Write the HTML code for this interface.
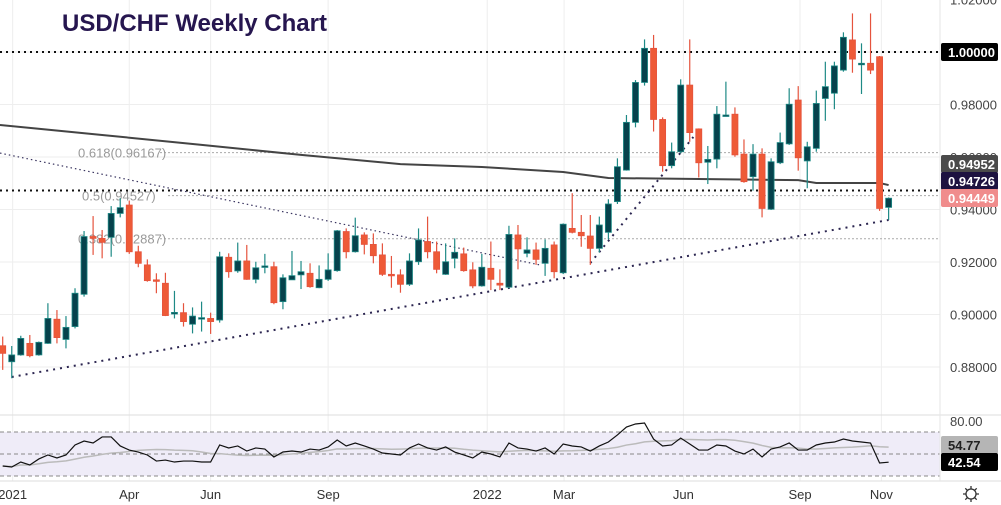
<!DOCTYPE html>
<html><head><meta charset="utf-8"><style>
html,body{margin:0;padding:0;background:#fff;}
svg{display:block;font-family:"Liberation Sans",sans-serif;}
</style></head><body>
<svg id="chart" width="1001" height="505" viewBox="0 0 1001 505" xmlns="http://www.w3.org/2000/svg">
<rect x="0" y="0" width="1001" height="505" fill="#ffffff"/>
<g id="grid"></g>
<g id="hlines"></g>
<g id="ma"></g>
<g id="trend"></g>
<g id="candles"></g>
<g id="rsi"></g>
<g id="axis"></g>
<text x="62" y="31" font-size="24" font-weight="bold" fill="#26164f">USD/CHF Weekly Chart</text>
<g transform="translate(971,494)">
<circle r="5" fill="none" stroke="#333" stroke-width="1.3"/>
<path d="M0,-8V-5M0,5V8M-8,0H-5M5,0H8M-5.7,-5.7L-3.5,-3.5M3.5,3.5L5.7,5.7M-5.7,5.7L-3.5,3.5M3.5,-3.5L5.7,-5.7" stroke="#333" stroke-width="1.3"/>
</g>
</svg>
<script>
const opens=[.8881,.8820,.8846,.8890,.8846,.8890,.8982,.8905,.8954,.9077,.9297,.9290,.9294,.9385,.9417,.9239,.9189,.9132,.9119,.9002,.9007,.8963,.8985,.8985,.8979,.9218,.9166,.9204,.9134,.9180,.9182,.9049,.9132,.9151,.9157,.9102,.9134,.9167,.9316,.9239,.9303,.9267,.9227,.9153,.9151,.9115,.9201,.9278,.9239,.9153,.9214,.9231,.9170,.9109,.9176,
.9119,.9104,.9303,.9233,.9246,.9195,.9265,.9159,.9328,.9313,.9299,.9252,.9313,
.9430,.9550,.9732,.9884,1.0014,.9743,.9567,.9620,.9874,.9707,.9580,.9592,.9757,.9763,.9611,.9525,.9611,.9401,.9578,.9650,.9817,.9585,.9633,.9823,.9843,.9931,1.0046,.9954,.9957,.9982,.9408];
const highs=[.8916,.8880,.8919,.8922,.8897,.9043,.9017,.8994,.9100,.9318,.9375,.9322,.9413,.9443,.9434,.9262,.9210,.9157,.9159,.9090,.9043,.9027,.9049,.9007,.9239,.9233,.9274,.9265,.9201,.9231,.9201,.9153,.9242,.9204,.9195,.9187,.9233,.9322,.9328,.9369,.9313,.9309,.9271,.9223,.9172,.9233,.9328,.9373,.9278,.9271,.9290,.9255,.9199,.9231,.9278,
.9172,.9338,.9341,.9294,.9274,.9286,.9278,.9347,.9462,.9379,.9379,.9373,.9439,
.9595,.9760,.9893,1.0048,1.0065,.9751,.9655,.9896,1.0048,.9709,.9642,.9794,.9887,.9789,.9667,.9649,.9633,.9595,.9693,.9862,.9870,.9658,.9853,.9963,.9963,1.0075,1.0147,1.0033,1.0147,.9985,.9446];
const lows=[.8789,.8757,.8843,.8837,.8843,.8888,.8890,.8871,.8947,.9068,.9227,.9214,.9220,.9370,.9231,.9180,.9125,.9081,.8994,.8985,.8954,.8928,.8935,.8926,.8969,.9140,.9159,.9132,.9119,.9157,.9039,.9020,.9132,.9097,.9102,.9100,.9128,.9163,.9214,.9236,.9229,.9195,.9147,.9102,.9083,.9109,.9189,.9214,.9157,.9151,.9176,.9163,.9100,.9106,.9093,
.9093,.9100,.9172,.9218,.9189,.9147,.9138,.9154,.9309,.9258,.9189,.9236,.9286,
.9421,.9548,.9713,.9872,.9697,.9544,.9557,.9614,.9658,.9522,.9497,.9557,.9757,.9601,.9502,.9472,.9370,.9398,.9573,.9646,.9548,.9481,.9620,.9738,.9782,.9925,.9921,.9840,.9916,.9395,.9360];
const closes=[.8852,.8846,.8909,.8843,.8894,.8985,.8912,.8951,.9081,.9297,.9290,.9275,.9385,.9407,.9239,.9195,.9129,.9128,.8996,.9008,.8973,.8994,.8988,.8973,.9220,.9163,.9204,.9134,.9178,.9185,.9045,.9140,.9148,.9163,.9106,.9134,.9170,.9319,.9239,.9300,.9267,.9224,.9153,.9148,.9115,.9204,.9284,.9239,.9172,.9201,.9237,.9167,.9109,.9180,.9134,
.9112,.9305,.9250,.9246,.9210,.9252,.9163,.9344,.9313,.9300,.9252,.9341,.9421,
.9563,.9732,.9884,1.0014,.9743,.9567,.9620,.9874,.9693,.9578,.9591,.9763,.9760,.9608,.9506,.9611,.9404,.9582,.9655,.9801,.9597,.9639,.9804,.9868,.9947,1.0056,.9973,.9957,.9931,.9404,.9443];
const rsiValues=[39.1,38.2,42.7,40,45.5,49.1,46.4,49.1,58.2,61.8,60,65.5,65.5,57.3,53.6,51.8,49.1,43.6,44.5,42.7,43.6,43.6,42.7,42.7,58.2,55.5,57.3,52.7,55.5,54.5,47.3,51.8,52.7,51.8,54.5,53.6,56.4,62.7,57.3,60,57.3,54.5,50.9,50,49.1,55.5,59.1,55.5,53.6,56.4,51.8,49.1,46.4,51.8,50,47.3,60,55.5,54.5,52.7,55.5,50,59.1,57.3,56.4,52.7,57.3,60.9,67.3,74.5,77.3,78.2,63.6,57.3,58.2,64.5,59.1,53.6,53.6,58.2,57.3,52.7,50,54.5,47.3,54.5,56.4,60,53.6,53.6,58.2,60,60.9,63.6,61.8,60.9,60,41.8,42.54];
const maIdx=[-0.3,11,22,33,44,53,62,67,77,88,90,97,98];
const maValues=[.9722,.9684,.9646,.9608,.9573,.9562,.9543,.9520,.9516,.9512,.9501,.9501,.9493];
const priceTicks=[1.02,0.98,0.96,0.94,0.92,0.90,0.88];
const priceTickLabels=["1.02000","0.98000","0.96000","0.94000","0.92000","0.90000","0.88000"];
const gridPrices=[1.02,1.0,0.98,0.96,0.94,0.92,0.90,0.88];
const timeLabels=["2021","Apr","Jun","Sep","2022","Mar","Jun","Sep","Nov"];
const timeIdx=[1.1,14,23,36,53.6,62.1,75.3,88.2,97.2];
const fibLevels=[0.96167,0.94527,0.92887];
const fibLabels=["0.618(0.96167)","0.5(0.94527)","0.382(0.92887)"];
const levelPrices=[1.0,0.94726];
const rsiMaPeriod=14;

const NS="http://www.w3.org/2000/svg";
const PX=940;
function xOf(i){return 2.7+9.04*i;}
function yOf(p){return 52+(1-p)*2625;}
function yR(v){return 454-(v-50)*1.1;}
function mk(tag,attrs,parent){const e=document.createElementNS(NS,tag);for(const k in attrs)e.setAttribute(k,attrs[k]);parent.appendChild(e);return e;}
const G=id=>document.getElementById(id);

// grid
const grid=G('grid');
gridPrices.forEach(p=>{const l=mk('line',{x1:0,x2:PX,y1:yOf(p),y2:yOf(p),stroke:'#eeeeee','stroke-width':1},grid);

});
timeIdx.forEach(i=>{const l=mk('line',{x1:xOf(i),x2:xOf(i),y1:0,y2:481,stroke:'#eeeeee','stroke-width':1},grid);

});

// horizontal levels & fib
const hl=G('hlines');
fibLevels.forEach((p,k)=>{
 const lx=k==1?168:160;
 const l=mk('line',{x1:lx,x2:PX,y1:yOf(p),y2:yOf(p),stroke:'#aaaaaa','stroke-width':1,'stroke-dasharray':'2,2'},hl);
 
 
 const t=mk('text',{x:k==1?82:78,y:yOf(p)+5,'font-size':13,fill:'#999999'},hl);
 t.textContent=fibLabels[k];
 
 
});
levelPrices.forEach(p=>{const l=mk('line',{x1:0,x2:PX,y1:yOf(p),y2:yOf(p),stroke:'#111','stroke-width':2,'stroke-dasharray':'2,4'},hl);

});

// MA
const ma=G('ma');
const maPl=mk('polyline',{points:maIdx.map((i,k)=>xOf(i)+','+yOf(maValues[k])).join(' '),fill:'none',stroke:'#444','stroke-width':2},ma);



// trendlines
const tr=G('trend');
const tl1=mk('line',{x1:xOf(1),y1:yOf(.8762),x2:xOf(98),y2:yOf(.9360),stroke:'#2b2550','stroke-width':2,'stroke-dasharray':'2,5'},tr);


const tl2=mk('line',{x1:xOf(-0.3),y1:yOf(.9615),x2:xOf(59.4),y2:yOf(.9189),stroke:'#3a3560','stroke-width':1.2,'stroke-dasharray':'1.5,3'},tr);


const tl3=mk('line',{x1:xOf(65),y1:yOf(.9196),x2:xOf(76.4),y2:yOf(.9676),stroke:'#2b2550','stroke-width':2,'stroke-dasharray':'2,5'},tr);



// candles
const cg=G('candles');
opens.forEach((o,i)=>{
 const c=closes[i],up=c>=o,x=xOf(i);
 const wc=up?'#1e8a86':'#e5533d';
 const g=mk('g',{},cg);
 
 
 mk('line',{x1:x,x2:x,y1:yOf(highs[i]),y2:yOf(lows[i]),stroke:wc,'stroke-width':1.2},g);
 const top=yOf(Math.max(o,c)),h=Math.max(1.5,yOf(Math.min(o,c))-top);
 mk('rect',{x:x-3,y:top,width:6,height:h,fill:up?'#06424c':'#ee5a37',stroke:up?'#1e8a86':'#e5533d','stroke-width':0.8},g);
});

// RSI
const rg=G('rsi');
mk('line',{x1:0,x2:1001,y1:415,y2:415,stroke:'#dddddd','stroke-width':1},rg);
const band=mk('rect',{x:0,y:yR(70),width:PX,height:yR(30)-yR(70),fill:'#efecf8'},rg);


[70,50,30].forEach(v=>{const l=mk('line',{x1:0,x2:PX,y1:yR(v),y2:yR(v),stroke:'#888','stroke-width':1,'stroke-dasharray':'4,3'},rg);

});
mk('line',{x1:0,x2:1001,y1:481,y2:481,stroke:'#dddddd','stroke-width':1},rg);
const rsiMa=rsiValues.map((v,i)=>{const s=rsiValues.slice(Math.max(0,i-rsiMaPeriod+1),i+1);return s.reduce((a,b)=>a+b,0)/s.length;});
const rma=mk('polyline',{points:rsiMa.map((v,i)=>xOf(i)+','+yR(v)).join(' '),fill:'none',stroke:'#bbbbbb','stroke-width':1.5},rg);


const rl=mk('polyline',{points:rsiValues.map((v,i)=>xOf(i)+','+yR(v)).join(' '),fill:'none',stroke:'#111','stroke-width':1.2},rg);



// axes
const ax=G('axis');
mk('line',{x1:PX,x2:PX,y1:0,y2:481,stroke:'#e6e6e6','stroke-width':1},ax);
priceTicks.forEach((p,k)=>{const t=mk('text',{x:950,y:yOf(p)+5,'font-size':13,fill:'#444'},ax);t.textContent=priceTickLabels[k];

});
function box(y,bg,fg,txt,name){
 const g=mk('g',{},ax);
 
 
 mk('rect',{x:941,y:y-9,width:57,height:18,fill:bg,rx:2},g);
 const t=mk('text',{x:948,y:y+5,'font-size':13,'font-weight':'bold',fill:fg},g);t.textContent=txt;
}
box(yOf(1.0),'#000','#fff','1.00000','level-1-label');
box(164,'#4a4a4a','#fff','0.94952','ma-value-label');
box(181,'#1d1240','#fff','0.94726','level-094726-label');
box(198,'#f08c8c','#fff','0.94449','last-price-label');
const t80=mk('text',{x:950,y:yR(80)+5,'font-size':13,fill:'#444'},ax);t80.textContent='80.00';


box(445,'#b5b5b5','#222',rsiMa[rsiMa.length-1].toFixed(2)==='54.77'?'54.77':'54.77','rsi-ma-value-label');
box(462,'#000','#fff',rsiValues[rsiValues.length-1].toFixed(2),'rsi-value-label');
timeLabels.forEach((s,k)=>{const t=mk('text',{x:xOf(timeIdx[k]),y:499,'font-size':13,fill:'#333','text-anchor':'middle'},ax);t.textContent=s;

});
</script>
</body></html>
